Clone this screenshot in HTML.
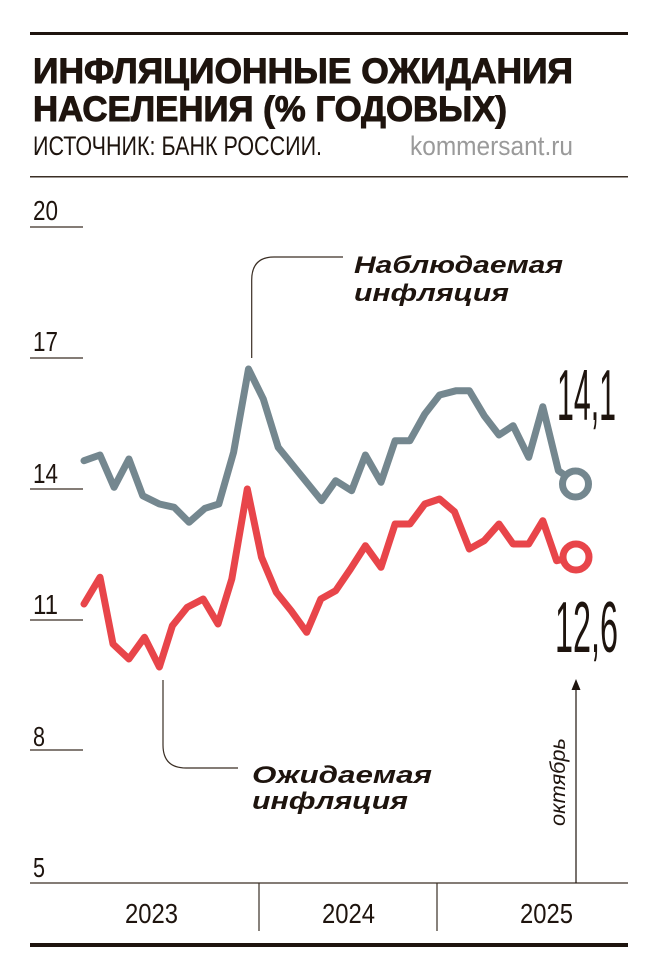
<!DOCTYPE html>
<html><head><meta charset="utf-8"><style>
html,body{margin:0;padding:0;background:#fff;}
svg{display:block;}
</style></head><body>
<svg width="658" height="977" viewBox="0 0 658 977" xmlns="http://www.w3.org/2000/svg">
<rect x="0" y="0" width="658" height="977" fill="#fff"/>
<rect x="30" y="32" width="598" height="3" fill="#1e140e"/>
<text x="33" y="83" font-family="Liberation Sans, sans-serif" font-weight="bold" font-size="35" fill="#1e140e" textLength="540" lengthAdjust="spacingAndGlyphs" stroke="#1e140e" stroke-width="1">ИНФЛЯЦИОННЫЕ ОЖИДАНИЯ</text>
<text x="33" y="121" font-family="Liberation Sans, sans-serif" font-weight="bold" font-size="35" fill="#1e140e" textLength="474" lengthAdjust="spacingAndGlyphs" stroke="#1e140e" stroke-width="1">НАСЕЛЕНИЯ (% ГОДОВЫХ)</text>
<text x="33" y="155" font-family="Liberation Sans Narrow, Liberation Sans, sans-serif" font-size="27" fill="#1e140e" textLength="289" lengthAdjust="spacingAndGlyphs">ИСТОЧНИК: БАНК РОССИИ.</text>
<text x="410" y="155" font-family="Liberation Sans Narrow, Liberation Sans, sans-serif" font-size="27" fill="#9a9a9a" textLength="163" lengthAdjust="spacingAndGlyphs">kommersant.ru</text>
<rect x="30" y="176" width="598" height="1.5" fill="#3a2e24"/>

<g font-family="Liberation Sans Narrow, Liberation Sans, sans-serif" font-size="28" fill="#1e140e" lengthAdjust="spacingAndGlyphs">
<text x="33" y="220" textLength="25" lengthAdjust="spacingAndGlyphs">20</text>
<text x="33" y="351" textLength="25" lengthAdjust="spacingAndGlyphs">17</text>
<text x="33" y="483" textLength="25" lengthAdjust="spacingAndGlyphs">14</text>
<text x="33" y="614" textLength="25" lengthAdjust="spacingAndGlyphs">11</text>
<text x="33" y="746" textLength="12" lengthAdjust="spacingAndGlyphs">8</text>
<text x="33" y="877" textLength="12" lengthAdjust="spacingAndGlyphs">5</text>
</g>
<g stroke="#3a2e24" stroke-width="1.2">
<line x1="30" y1="227" x2="83" y2="227"/>
<line x1="30" y1="358" x2="83" y2="358"/>
<line x1="30" y1="489" x2="83" y2="489"/>
<line x1="30" y1="620" x2="83" y2="620"/>
<line x1="30" y1="750" x2="83" y2="750"/>
<line x1="30" y1="883" x2="628" y2="883"/>
<line x1="259" y1="883" x2="259" y2="931"/>
<line x1="437" y1="883" x2="437" y2="931"/>
</g>
<g font-family="Liberation Sans Narrow, Liberation Sans, sans-serif" font-size="28" fill="#1e140e">
<text x="125" y="923" textLength="53" lengthAdjust="spacingAndGlyphs">2023</text>
<text x="322" y="923" textLength="53" lengthAdjust="spacingAndGlyphs">2024</text>
<text x="520" y="923" textLength="53" lengthAdjust="spacingAndGlyphs">2025</text>
</g>
<rect x="30" y="943" width="598" height="4" fill="#1e140e"/>

<path d="M251.7 358 V280 Q251.7 257 274 257 H343" fill="none" stroke="#3a2e24" stroke-width="1.2"/>
<path d="M163 680 V745 Q163 768 186 768 H238" fill="none" stroke="#3a2e24" stroke-width="1.2"/>
<g font-family="Liberation Sans, sans-serif" font-weight="bold" font-style="italic" font-size="24" fill="#1e140e">
<text x="354" y="273" textLength="209" lengthAdjust="spacingAndGlyphs">Наблюдаемая</text>
<text x="354" y="301" textLength="155" lengthAdjust="spacingAndGlyphs">инфляция</text>
<text x="252" y="783" textLength="180" lengthAdjust="spacingAndGlyphs">Ожидаемая</text>
<text x="252" y="809" textLength="156" lengthAdjust="spacingAndGlyphs">инфляция</text>
</g>

<line x1="576" y1="883" x2="576" y2="686" stroke="#1e140e" stroke-width="1.2"/>
<polygon points="571.5,690 580.5,690 576,679" fill="#1e140e"/>
<text transform="translate(565,826) rotate(-90)" font-family="Liberation Sans, sans-serif" font-style="italic" font-size="21" fill="#1e140e" textLength="88" lengthAdjust="spacingAndGlyphs">октябрь</text>

<polyline fill="none" stroke="#74878f" stroke-width="7" stroke-linejoin="round" stroke-linecap="round" points="84,460.7 100,455 114.1,487.3 128.9,459 142.7,495.7 159.4,504 174.2,507.3 189.1,522.3 205,508.3 218.8,504 233.6,452.3 248.5,369 263.3,399 278.2,447.3 321.6,500.7 335.7,480.7 351.6,490.7 365.4,455 381,482.3 395.1,440.7 409.9,440.7 424.8,414 439.6,395 456.3,390.7 469.3,390.7 484.2,415.7 499,435 513.1,425.7 528.7,457.3 542.8,406.7 558.4,470.7 575.1,482.3"/>
<circle cx="575.5" cy="484" r="13" fill="#fff" stroke="#74878f" stroke-width="7"/>
<polyline fill="none" stroke="#e8454a" stroke-width="7" stroke-linejoin="round" stroke-linecap="round" points="84,604 100,577.3 113,644 128.9,659 144.5,637.3 159.4,667 172.4,625.7 187.2,607.3 203.2,599 218,624 231.8,579 247.3,489 261.5,557.3 276.3,592.3 291.1,610.7 306.7,632.3 320.8,599 335.7,590.7 350.5,569 365.4,545.7 381,567.3 395.1,524 409.9,524 424.8,504 439.6,499 454.5,511.7 469.3,549 484.2,540.7 499,524 513.1,544 528.7,544 542.8,520.7 556.6,560.7 575.1,556.3"/>
<circle cx="576" cy="557" r="13" fill="#fff" stroke="#e8454a" stroke-width="7"/>

<g font-family="Liberation Sans Narrow, Liberation Sans, sans-serif" font-size="72" fill="#1e140e">
<text x="557" y="420" textLength="59" lengthAdjust="spacingAndGlyphs">14,1</text>
<text x="555" y="652" textLength="63" lengthAdjust="spacingAndGlyphs">12,6</text>
</g>
</svg>
</body></html>
